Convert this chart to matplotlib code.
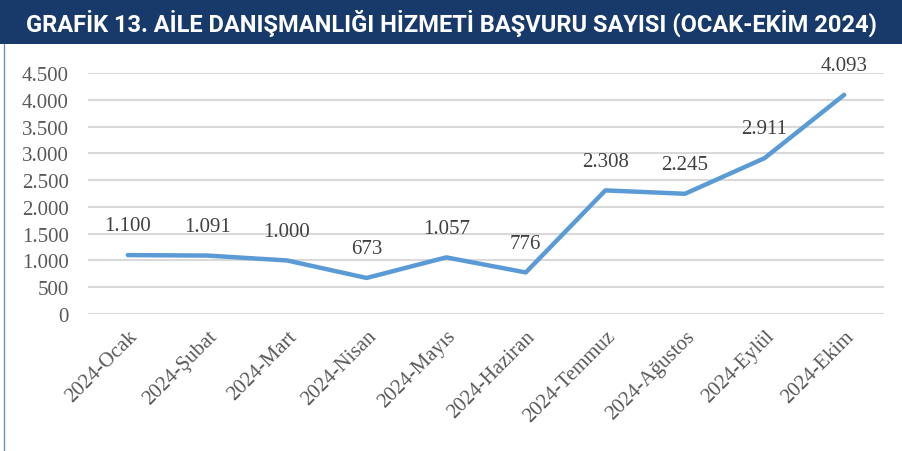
import matplotlib

matplotlib.use("Agg")
import matplotlib.pyplot as plt  # noqa: E402
from matplotlib.lines import Line2D  # noqa: E402
from matplotlib.patches import Rectangle  # noqa: E402
from matplotlib.ticker import FuncFormatter  # noqa: E402

# data
months = ["2024-Ocak", "2024-Şubat", "2024-Mart", "2024-Nisan", "2024-Mayıs",
          "2024-Haziran", "2024-Temmuz", "2024-Ağustos", "2024-Eylül", "2024-Ekim"]
applications = [1100, 1091, 1000, 673, 1057, 776, 2308, 2245, 2911, 4093]
title = "GRAFİK 13. AİLE DANIŞMANLIĞI HİZMETİ BAŞVURU SAYISI (OCAK-EKİM 2024)"

NAVY = "#173a6b"
LINE = "#5b9bd5"
GREY = "#595959"
SERIF = "Liberation Serif"


def dotted(v, _pos=None):
    return f"{int(round(v)):,}".replace(",", ".")


fig = plt.figure(figsize=(9.02, 4.52), dpi=100)
fig.patch.set_facecolor("white")

# title bar
fig.add_artist(Rectangle((0, 1 - 45 / 452), 1, 45 / 452, transform=fig.transFigure,
                         facecolor=NAVY, edgecolor="none"))
fig.text(451 / 902, 1 - 23 / 452, title, ha="center", va="center", color="white",
         fontsize=17, fontweight="bold", family="Roboto")
# thin left frame line
fig.add_artist(Line2D([3.5 / 902, 3.5 / 902], [0, 1 - 45 / 452], transform=fig.transFigure,
                      color="#6f8fc0", lw=1))

ax = fig.add_axes([88 / 902, 1 - 315 / 452, (884 - 88) / 902, (315 - 74) / 452])
x = list(range(len(months)))
ax.plot(x, applications, color=LINE, lw=3.2, solid_capstyle="round", solid_joinstyle="round")

for xi, v in zip(x, applications):
    ax.annotate(dotted(v), (xi, v), xytext=(0, 21), textcoords="offset points",
                ha="center", va="center", fontsize=15, color="#404040", family=SERIF)

ax.set_xlim(-0.5, len(months) - 0.5)
ax.set_ylim(0, 4500)
ax.set_yticks(range(0, 4501, 500))
ax.yaxis.set_major_formatter(FuncFormatter(dotted))
ax.grid(axis="y", color="#d9d9d9", lw=1.5)
ax.set_axisbelow(True)
for s in ax.spines.values():
    s.set_visible(False)
ax.tick_params(axis="both", length=0, colors=GREY)
ax.tick_params(axis="y", pad=14, labelsize=15)
ax.tick_params(axis="x", pad=9)
ax.set_xticks(x)
ax.set_xticklabels(months, rotation=45, ha="right", rotation_mode="anchor",
                   family=SERIF, fontsize=15, color=GREY)
for lab in ax.get_yticklabels():
    lab.set_family(SERIF)

fig.savefig("out.png", dpi=100)
